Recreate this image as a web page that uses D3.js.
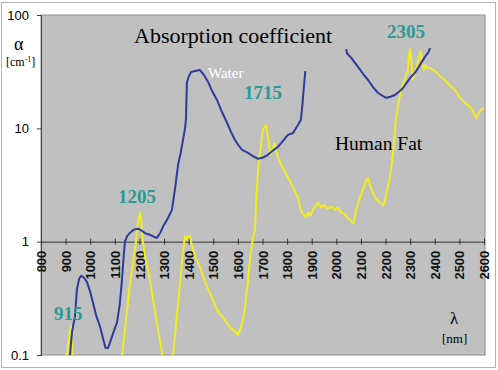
<!DOCTYPE html>
<html>
<head>
<meta charset="utf-8">
<script src="https://cdn.jsdelivr.net/npm/d3@7"></script>
<style>
  body { margin: 0; background: #fff; }
  svg { display: block; }
</style>
</head>
<body>
<div id="chart"></div>
<script>
// wavelength ticks (nm)
const xTicks = [800, 900, 1000, 1100, 1200, 1300, 1400, 1500, 1600, 1700, 1800, 1900, 2000, 2100, 2200, 2300, 2400, 2500, 2600];
const yTicks = [0.1, 1, 10, 100];

// water absorption, null = gap in measurement
const waterWl = [912, 918, 926, 938, 946, 955, 963, 975, 987, 1000, 1011, 1025, 1040, 1052, 1062, 1072, 1080, 1095, 1109, 1120, 1129, 1136, 1141, 1150, 1162, 1175, 1194, 1210, 1225, 1243, 1260, 1271, 1285, 1296, 1315, 1332, 1344, 1357, 1367, 1377, 1385, 1389, 1391, 1393, 1400, 1410, 1425, 1446, 1460, 1479, 1497, 1515, 1535, 1556, 1572, 1588, 1600, 1617, 1641, 1660, 1682, 1700, 1722, 1740, 1763, 1780, 1803, 1824, 1844, 1856, 1862, 1868, 1874,
  1960,
  2040, 2043, 2060, 2088, 2110, 2129, 2150, 2169, 2185, 2202, 2220, 2238, 2255, 2271, 2290, 2303, 2320, 2340, 2360, 2372, 2381];
const waterAlpha = [0.07, 0.1, 0.16, 0.22, 0.38, 0.47, 0.5, 0.48, 0.44, 0.36, 0.29, 0.22, 0.178, 0.14, 0.116, 0.115, 0.128, 0.16, 0.194, 0.28, 0.46, 0.75, 1.0, 1.12, 1.2, 1.27, 1.3, 1.25, 1.18, 1.15, 1.1, 1.08, 1.2, 1.36, 1.6, 1.91, 2.87, 4.76, 6, 7.9, 10, 12, 18, 25.6, 28.5, 31.4, 32, 32.7, 30, 25.6, 21, 17.8, 14, 11.2, 9.3, 7.9, 7.2, 6.45, 6.08, 5.7, 5.38, 5.5, 5.84, 6.3, 6.88, 7.6, 8.76, 9.1, 10.7, 11.9, 16, 23, 32,
  null,
  50, 46, 42, 34.8, 30, 26.7, 23, 20.6, 19.5, 18.6, 19, 19.7, 21, 22.7, 26, 28.4, 31, 36.3, 42.7, 46, 51];

// human fat absorption
const fatWl = [895, 905, 915, 922, 928, 933,
  1000,
  1125, 1130, 1145, 1160, 1175, 1186, 1195, 1202, 1208, 1214, 1225, 1240, 1255, 1275, 1290, 1300,
  1318,
  1330, 1337, 1350, 1365, 1375, 1385, 1392, 1398, 1406, 1412, 1425, 1446, 1465, 1480, 1500, 1515, 1535, 1556, 1575, 1590, 1600, 1610, 1620, 1630, 1641, 1652, 1662, 1669, 1674, 1682, 1690, 1702, 1714, 1722, 1731, 1740, 1750, 1758, 1771, 1790, 1804, 1825, 1844, 1856, 1865, 1877, 1885, 1895, 1910, 1926, 1940, 1950, 1966, 1980, 1995, 2007, 2020, 2035, 2047, 2058, 2068, 2074, 2080, 2095, 2108, 2120, 2129, 2138, 2149, 2160, 2169, 2180, 2190, 2196, 2202, 2210, 2218, 2230, 2242, 2255, 2268, 2280, 2290, 2296, 2300, 2305, 2310, 2318, 2328, 2338, 2343, 2348, 2355, 2362, 2372, 2380, 2390, 2401, 2420, 2441, 2460, 2482, 2500, 2523, 2547, 2560, 2568, 2578, 2588, 2600];
const fatAlpha = [0.07, 0.1, 0.15, 0.18, 0.1, 0.06,
  null,
  0.075, 0.1, 0.2, 0.4, 0.7, 1.0, 1.5, 1.8, 1.5, 1.0, 0.7, 0.5, 0.31, 0.17, 0.11, 0.08,
  null,
  0.07, 0.1, 0.2, 0.43, 0.75, 1.12, 1.05, 1.1, 1.13, 0.95, 0.75, 0.6, 0.45, 0.38, 0.3, 0.25, 0.22, 0.19, 0.17, 0.16, 0.15, 0.17, 0.2, 0.27, 0.46, 0.8, 1.1, 1.27, 2.2, 4.3, 6.06, 9.7, 10.7, 8.5, 5.8, 6.5, 7.4, 6.0, 5.0, 4.2, 3.66, 3.0, 2.44, 1.9, 1.75, 1.65, 1.8, 1.7, 2.0, 2.2, 2.0, 2.1, 1.95, 2.05, 1.9, 2.0, 1.8, 1.75, 1.6, 1.55, 1.45, 1.6, 1.9, 2.4, 2.9, 3.4, 3.66, 3.1, 2.7, 2.4, 2.3, 2.2, 2.1, 2.2, 2.6, 3.1, 3.74, 6.0, 12, 18, 24, 28, 32, 45, 50, 40, 27, 30, 36, 44, 48, 38, 33, 36, 34, 34, 33, 32, 29, 26.7, 24, 21.8, 19, 16.7, 15.2, 13.5, 12.4, 13.5, 14.6, 15];

const width = 498, height = 370;
const plot = { left: 41, top: 15, right: 485, bottom: 355 };

const svg = d3.select('#chart').append('svg')
  .attr('width', width).attr('height', height)
  .style('font-family', '"Liberation Sans", Arial, sans-serif');

// outer frame
svg.append('rect')
  .attr('x', 1.5).attr('y', 2.5).attr('width', 494).attr('height', 365)
  .attr('fill', '#fff').attr('stroke', '#b4b4b4');

const x = d3.scaleLinear().domain([800, 2600]).range([plot.left, 484]);
const y = d3.scaleLog().domain([0.1, 100]).range([plot.bottom, plot.top]);

svg.append('rect')
  .attr('x', plot.left).attr('y', plot.top)
  .attr('width', plot.right - plot.left).attr('height', plot.bottom - plot.top)
  .attr('fill', '#c0c0c0').attr('stroke', '#8c8c8c');

svg.append('clipPath').attr('id', 'clip')
  .append('rect')
  .attr('x', plot.left).attr('y', plot.top)
  .attr('width', plot.right - plot.left).attr('height', plot.bottom - plot.top);

// y axis
const yAxis = svg.append('g')
  .attr('transform', 'translate(' + plot.left + ',0)')
  .call(d3.axisLeft(y).tickValues(yTicks).tickFormat(d => String(d)).tickSize(4).tickPadding(8));
yAxis.select('.domain').attr('stroke', '#444');
yAxis.selectAll('.tick line').attr('stroke', '#444');
yAxis.selectAll('text').attr('font-size', 13).attr('fill', '#000')
  .attr('font-family', '"Liberation Sans", Arial, sans-serif');

// x axis drawn through alpha = 1
const xAxis = svg.append('g')
  .attr('transform', 'translate(0,' + y(1) + ')')
  .call(d3.axisBottom(x).tickValues(xTicks).tickSizeInner(3).tickSizeOuter(0).tickFormat(d3.format('d')));
xAxis.select('.domain').attr('stroke', '#333');
xAxis.selectAll('.tick line').attr('stroke', '#333').attr('y1', -3).attr('y2', 3);
xAxis.selectAll('text')
  .attr('font-size', 13).attr('font-weight', 'bold').attr('fill', '#111')
  .attr('font-family', '"Liberation Sans", Arial, sans-serif')
  .attr('text-anchor', 'end')
  .attr('transform', 'rotate(-90)')
  .attr('x', -9).attr('y', 0).attr('dy', '0.35em');

const line = d3.line()
  .defined(d => d[1] != null)
  .x(d => x(d[0]))
  .y(d => y(d[1]));

const curves = svg.append('g').attr('clip-path', 'url(#clip)');

curves.append('path')
  .datum(fatWl.map((w, i) => [w, fatAlpha[i]]))
  .attr('fill', 'none').attr('stroke', '#f2ee1e').attr('stroke-width', 2)
  .attr('stroke-linejoin', 'round')
  .attr('d', line);

curves.append('path')
  .datum(waterWl.map((w, i) => [w, waterAlpha[i]]))
  .attr('fill', 'none').attr('stroke', '#2e3a9c').attr('stroke-width', 2)
  .attr('stroke-linejoin', 'round')
  .attr('d', line);

// labels
const serif = '"Liberation Serif", "Times New Roman", serif';
const label = (txt, lx, ly, size, color, weight) => svg.append('text')
  .attr('x', lx).attr('y', ly)
  .attr('font-family', serif).attr('font-size', size)
  .attr('font-weight', weight || 'normal')
  .attr('fill', color).text(txt);

label('Absorption coefficient', 134, 43, 22, '#000');
label('Water', 208, 78, 15, '#fff');
label('Human Fat', 335, 150, 19.5, '#000');
label('\u03b1', 14, 50, 18, '#000');
const cm = label('[cm', 6, 66, 12, '#000');
cm.append('tspan').attr('dy', -4).attr('font-size', 8).text('-1');
cm.append('tspan').attr('dy', 4).text(']');
label('\u03bb', 450, 324, 17, '#000');
label('[nm]', 442, 343, 13, '#000');

const teal = '#2b9a96';
label('915', 54, 320, 19, teal, 'bold');
label('1205', 118, 203, 19, teal, 'bold');
label('1715', 244, 99, 19, teal, 'bold');
label('2305', 387, 38, 19, teal, 'bold');
</script>
</body>
</html>
